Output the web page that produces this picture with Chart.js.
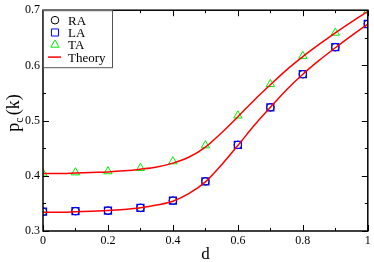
<!DOCTYPE html>
<html>
<head>
<meta charset="utf-8">
<script src="https://cdn.jsdelivr.net/npm/chart.js@4"></script>
<style>
  html, body { margin: 0; padding: 0; background: #ffffff; }
  canvas { display: block; }
</style>
</head>
<body>
<canvas id="pcChart" width="374" height="262"></canvas>
<script>
// 模擬資料點 (d = 0 ~ 1)
const dValues = [0, 0.1, 0.2, 0.3, 0.4, 0.5, 0.6, 0.7, 0.8, 0.9, 1.0];
const raValues = [0.335, 0.336, 0.337, 0.342, 0.355, 0.390, 0.456, 0.524, 0.584, 0.633, 0.675];
const laValues = [0.335, 0.336, 0.337, 0.342, 0.355, 0.390, 0.456, 0.524, 0.584, 0.633, 0.675];
const taValues = [0.404, 0.406, 0.408, 0.414, 0.426, 0.455, 0.509, 0.566, 0.617, 0.659, 0.699];

// 理論曲線
const theoryD = [0, 0.05, 0.1, 0.15, 0.2, 0.25, 0.3, 0.35, 0.4, 0.45, 0.5,
                 0.55, 0.6, 0.65, 0.7, 0.75, 0.8, 0.85, 0.9, 0.95, 1.0];
const theoryLow = [0.334, 0.334, 0.335, 0.336, 0.337, 0.339, 0.342, 0.347, 0.354, 0.368, 0.389,
                   0.420, 0.455, 0.491, 0.524, 0.556, 0.584, 0.609, 0.632, 0.654, 0.675];
const theoryHigh = [0.404, 0.404, 0.405, 0.406, 0.407, 0.409, 0.412, 0.416, 0.423, 0.434, 0.452,
                    0.478, 0.507, 0.537, 0.565, 0.592, 0.616, 0.638, 0.659, 0.679, 0.698];

const xTickLabels = ["0", "0.2", "0.4", "0.6", "0.8", "1"];
const yTickLabels = ["0.3", "0.4", "0.5", "0.6", "0.7"];

const legendLabels = ["RA", "LA", "TA", "Theory"];

const serif = "'Liberation Serif', 'DejaVu Serif', serif";

function toPoints(xs, ys) {
    return xs.map((x, i) => ({ x: x, y: ys[i] }));
}

// 畫框線、內向刻度、軸標題、圖例
const framePlugin = {
    id: "frame",
    afterDraw(chart) {
        const ctx = chart.ctx;
        const a = chart.chartArea;
        const xs = chart.scales.x;
        const ys = chart.scales.y;
        ctx.save();

        ctx.strokeStyle = "#000000";
        ctx.lineWidth = 1;
        ctx.beginPath();
        const xt = xs.ticks.map(t => t.value);
        xt.forEach((v, i) => {
            const px = Math.round(xs.getPixelForValue(v)) + 0.5;
            ctx.moveTo(px, a.bottom); ctx.lineTo(px, a.bottom - 6);
            ctx.moveTo(px, a.top); ctx.lineTo(px, a.top + 6);
            if (i < xt.length - 1) {
                const mx = Math.round(xs.getPixelForValue((v + xt[i + 1]) / 2)) + 0.5;
                ctx.moveTo(mx, a.bottom); ctx.lineTo(mx, a.bottom - 3);
                ctx.moveTo(mx, a.top); ctx.lineTo(mx, a.top + 3);
            }
        });
        const yt = ys.ticks.map(t => t.value);
        yt.forEach((v, i) => {
            const py = Math.round(ys.getPixelForValue(v)) + 0.5;
            ctx.moveTo(a.left, py); ctx.lineTo(a.left + 6, py);
            ctx.moveTo(a.right, py); ctx.lineTo(a.right - 6, py);
            if (i < yt.length - 1) {
                const my = Math.round(ys.getPixelForValue((v + yt[i + 1]) / 2)) + 0.5;
                ctx.moveTo(a.left, my); ctx.lineTo(a.left + 3, my);
                ctx.moveTo(a.right, my); ctx.lineTo(a.right - 3, my);
            }
        });
        ctx.stroke();

        ctx.lineWidth = 1.5;
        ctx.strokeRect(a.left, a.top, a.right - a.left, a.bottom - a.top);

        // x 軸標題
        ctx.fillStyle = "#000000";
        ctx.font = "17px " + serif;
        ctx.textAlign = "center";
        ctx.textBaseline = "alphabetic";
        ctx.fillText("d", (a.left + a.right) / 2, 259);

        // y 軸標題 p_c(k)
        ctx.save();
        ctx.translate(19, 113);
        ctx.rotate(-Math.PI / 2);
        ctx.textAlign = "left";
        ctx.font = "18px " + serif;
        const wp = ctx.measureText("p").width;
        ctx.font = "12px " + serif;
        const wc = ctx.measureText("c").width;
        ctx.font = "18px " + serif;
        const wk = ctx.measureText("(k)").width;
        let x0 = -(wp + wc + 2 + wk) / 2;
        ctx.fillText("p", x0, 0);
        ctx.font = "12px " + serif;
        ctx.fillText("c", x0 + wp, 4);
        ctx.font = "18px " + serif;
        ctx.fillText("(k)", x0 + wp + wc + 2, 0);
        ctx.restore();

        // 圖例
        const bx = a.left, by = a.top, bw = 69, bh = 57;
        ctx.fillStyle = "#ffffff";
        ctx.fillRect(bx, by, bw, bh);
        ctx.strokeStyle = "#555555";
        ctx.lineWidth = 1;
        ctx.strokeRect(bx + 0.5, by + 0.5, bw, bh);

        const sets = chart.data.datasets;
        legendLabels.forEach((label, i) => {
            const cy = by + 10 + i * 12.3;
            const ds = sets[i];
            ctx.strokeStyle = ds.borderColor;
            ctx.fillStyle = "rgba(0,0,0,0)";
            ctx.lineWidth = 1;
            if (ds.showLine) {
                ctx.lineWidth = 1.5;
                ctx.beginPath();
                ctx.moveTo(bx + 5, cy); ctx.lineTo(bx + 18, cy);
                ctx.stroke();
            } else {
                Chart.helpers.drawPoint(ctx, {
                    pointStyle: ds.pointStyle,
                    radius: ds.pointRadius,
                    borderWidth: 1,
                    rotation: 0
                }, bx + 12, cy);
            }
            ctx.fillStyle = "#000000";
            ctx.font = "13px " + serif;
            ctx.textAlign = "left";
            ctx.textBaseline = "middle";
            ctx.fillText(label, bx + 25, cy + 1);
        });

        ctx.restore();
    }
};

const canvas = document.getElementById("pcChart");
const ctx = canvas.getContext("2d");

window.pcChart = new Chart(ctx, {
    type: "scatter",
    data: {
        datasets: [
            {
                label: "RA", data: toPoints(dValues, raValues),
                pointStyle: "circle", pointRadius: 3.8, borderColor: "#000000",
                backgroundColor: "transparent", borderWidth: 1, showLine: false, order: 4
            },
            {
                label: "LA", data: toPoints(dValues, laValues),
                pointStyle: "rect", pointRadius: 5, borderColor: "#0000ff",
                backgroundColor: "transparent", borderWidth: 1.2, showLine: false, order: 3
            },
            {
                label: "TA", data: toPoints(dValues, taValues),
                pointStyle: "triangle", pointRadius: 4.8, borderColor: "#00ee00",
                backgroundColor: "transparent", borderWidth: 1, showLine: false, order: 2
            },
            {
                label: "Theory", data: toPoints(theoryD, theoryLow),
                showLine: true, pointRadius: 0, borderColor: "#ff0000", borderWidth: 1.5,
                cubicInterpolationMode: "monotone", fill: false, order: 1
            },
            {
                label: "Theory2", data: toPoints(theoryD, theoryHigh),
                showLine: true, pointRadius: 0, borderColor: "#ff0000", borderWidth: 1.5,
                cubicInterpolationMode: "monotone", fill: false, order: 1
            }
        ]
    },
    options: {
        responsive: false,
        maintainAspectRatio: false,
        animation: false,
        layout: { padding: { top: 4, right: 5, left: 0, bottom: 0 } },
        plugins: {
            legend: { display: false },
            tooltip: { enabled: false }
        },
        scales: {
            x: {
                type: "linear", min: 0, max: 1,
                grid: { display: false, drawTicks: false },
                border: { display: false },
                ticks: {
                    stepSize: 0.2, padding: 3, color: "#000000",
                    font: { family: serif, size: 12 },
                    maxRotation: 0,
                    callback: (v, i) => xTickLabels[i]
                },
                afterFit: s => { s.height = 31; }
            },
            y: {
                type: "linear", min: 0.3, max: 0.7,
                grid: { display: false, drawTicks: false },
                border: { display: false },
                ticks: {
                    stepSize: 0.1, padding: 3, color: "#000000",
                    font: { family: serif, size: 12 },
                    callback: (v, i) => yTickLabels[i]
                },
                afterFit: s => { s.height = s.height; s.width = 43; }
            }
        }
    },
    plugins: [framePlugin]
});
</script>
</body>
</html>
